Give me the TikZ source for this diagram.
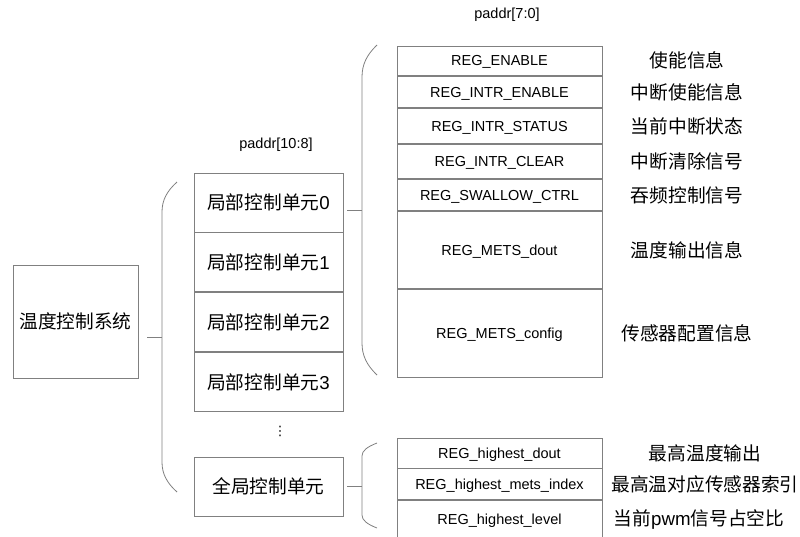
\documentclass[tikz,border=0pt]{standalone}
\usepackage{fontspec}
\setmainfont{Liberation Sans}
\newfontfamily\cjk{Noto Sans CJK SC}
\newfontfamily\symfont{DejaVu Sans}
\usepackage{tikz}
\usetikzlibrary{positioning}
\definecolor{linegray}{RGB}{128,128,128}
\newcommand{\regfont}{\fontsize{14.5}{16}\selectfont}
\newcommand{\cnsize}{\fontsize{18.7}{20}\selectfont}
% curly side bracket: x, top, bottom, height of the bends
\newcommand{\sidebrace}[4]{%
  \draw[wire] (#1+15,#2) .. controls (#1+5,#2+0.3*#4) and (#1,#2+0.6*#4) .. (#1,#2+#4)
    -- (#1,#3-#4) .. controls (#1,#3-0.6*#4) and (#1+5,#3-0.3*#4) .. (#1+15,#3);}

\begin{document}
\begin{tikzpicture}[x=1pt,y=-1pt,
    wire/.style={draw=linegray,line width=0.8pt},
    unit/.style={draw=linegray,line width=0.8pt,minimum width=149pt,minimum height=59pt,
      inner sep=0pt,font=\cnsize\cjk},
    reg/.style={draw=linegray,line width=0.8pt,minimum width=205pt,inner sep=0pt,
      text depth=0pt,font=\regfont},
    note/.style={font=\cnsize\cjk}]
  \useasboundingbox (0,0) rectangle (800,536);

  % System box
  \node[unit,minimum width=125pt,minimum height=113pt] (sys) at (75.5,321.5) {温度控制系统};

  % Control units
  \node[font=\regfont] (pb) at (276,145) {paddr[10:8]};
  \node[unit] (loc0) at (268.5,202.5) {局部控制单元{\rmfamily 0}};
  \node[unit,below=0pt of loc0] (loc1) {局部控制单元{\rmfamily 1}};
  \node[unit,below=0pt of loc1] (loc2) {局部控制单元{\rmfamily 2}};
  \node[unit,below=0pt of loc2] (loc3) {局部控制单元{\rmfamily 3}};
  \node[font=\fontsize{13}{13}\symfont] (dots) at (280,431) {⋮};
  \node[unit] (glob) at (268.5,486.5) {全局控制单元};

  % Registers of a local unit
  \node[font=\regfont] (pa) at (507,15) {paddr[7:0]};
  \node[reg,minimum height=29.5pt] (r1) at (499.5,60.75) {REG\_ENABLE};
  \node[reg,minimum height=31.5pt,below=0pt of r1] (r2) {REG\_INTR\_ENABLE};
  \node[reg,minimum height=35pt,below=0pt of r2] (r3) {REG\_INTR\_STATUS};
  \node[reg,minimum height=34pt,below=0pt of r3] (r4) {REG\_INTR\_CLEAR};
  \node[reg,minimum height=31.5pt,below=0pt of r4] (r5) {REG\_SWALLOW\_CTRL};
  \node[reg,minimum height=77pt,below=0pt of r5] (r6) {REG\_METS\_dout};
  \node[reg,minimum height=88pt,below=0pt of r6] (r7) {REG\_METS\_config};

  % Registers of the global unit
  \node[reg,minimum height=30pt] (h1) at (499.5,453) {REG\_highest\_dout};
  \node[reg,minimum height=31pt,below=0pt of h1] (h2) {REG\_highest\_mets\_index};
  \node[reg,minimum height=38pt,below=0pt of h2] (h3) {REG\_highest\_level};

  % Descriptions
  \coordinate (ncol) at (687,0);
  \node[note] (n1) at (ncol |- r1) {使能信息};
  \node[note] (n2) at (ncol |- r2) {中断使能信息};
  \node[note] (n3) at (ncol |- r3) {当前中断状态};
  \node[note] (n4) at (ncol |- r4) {中断清除信号};
  \node[note] (n5) at (ncol |- r5) {吞频控制信号};
  \node[note] (n6) at (ncol |- r6) {温度输出信息};
  \node[note] (n7) at (ncol |- r7) {传感器配置信息};
  \coordinate (mcol) at (705,0);
  \node[note] (m1) at (mcol |- h1) {最高温度输出};
  \node[note] (m2) at (mcol |- h2) {最高温对应传感器索引};
  \node[note] (m3) at ([xshift=-6pt]mcol |- h3) {当前{\rmfamily pwm}信号占空比};

  % Brackets and their ties
  \sidebrace{162}{182}{492}{30}
  \coordinate (tip1) at (162,337);
  \draw[wire,shorten <=9pt] (sys.east |- tip1) -- (tip1);

  \sidebrace{362}{45}{375}{32}
  \coordinate (tip2) at (362,210);
  \draw[wire,shorten <=4pt] (loc0.east |- tip2) -- (tip2);

  \sidebrace{362}{443}{528}{13}
  \coordinate (tip3) at (362,486);
  \draw[wire,shorten <=4pt] (glob.east |- tip3) -- (tip3);
\end{tikzpicture}
\end{document}
